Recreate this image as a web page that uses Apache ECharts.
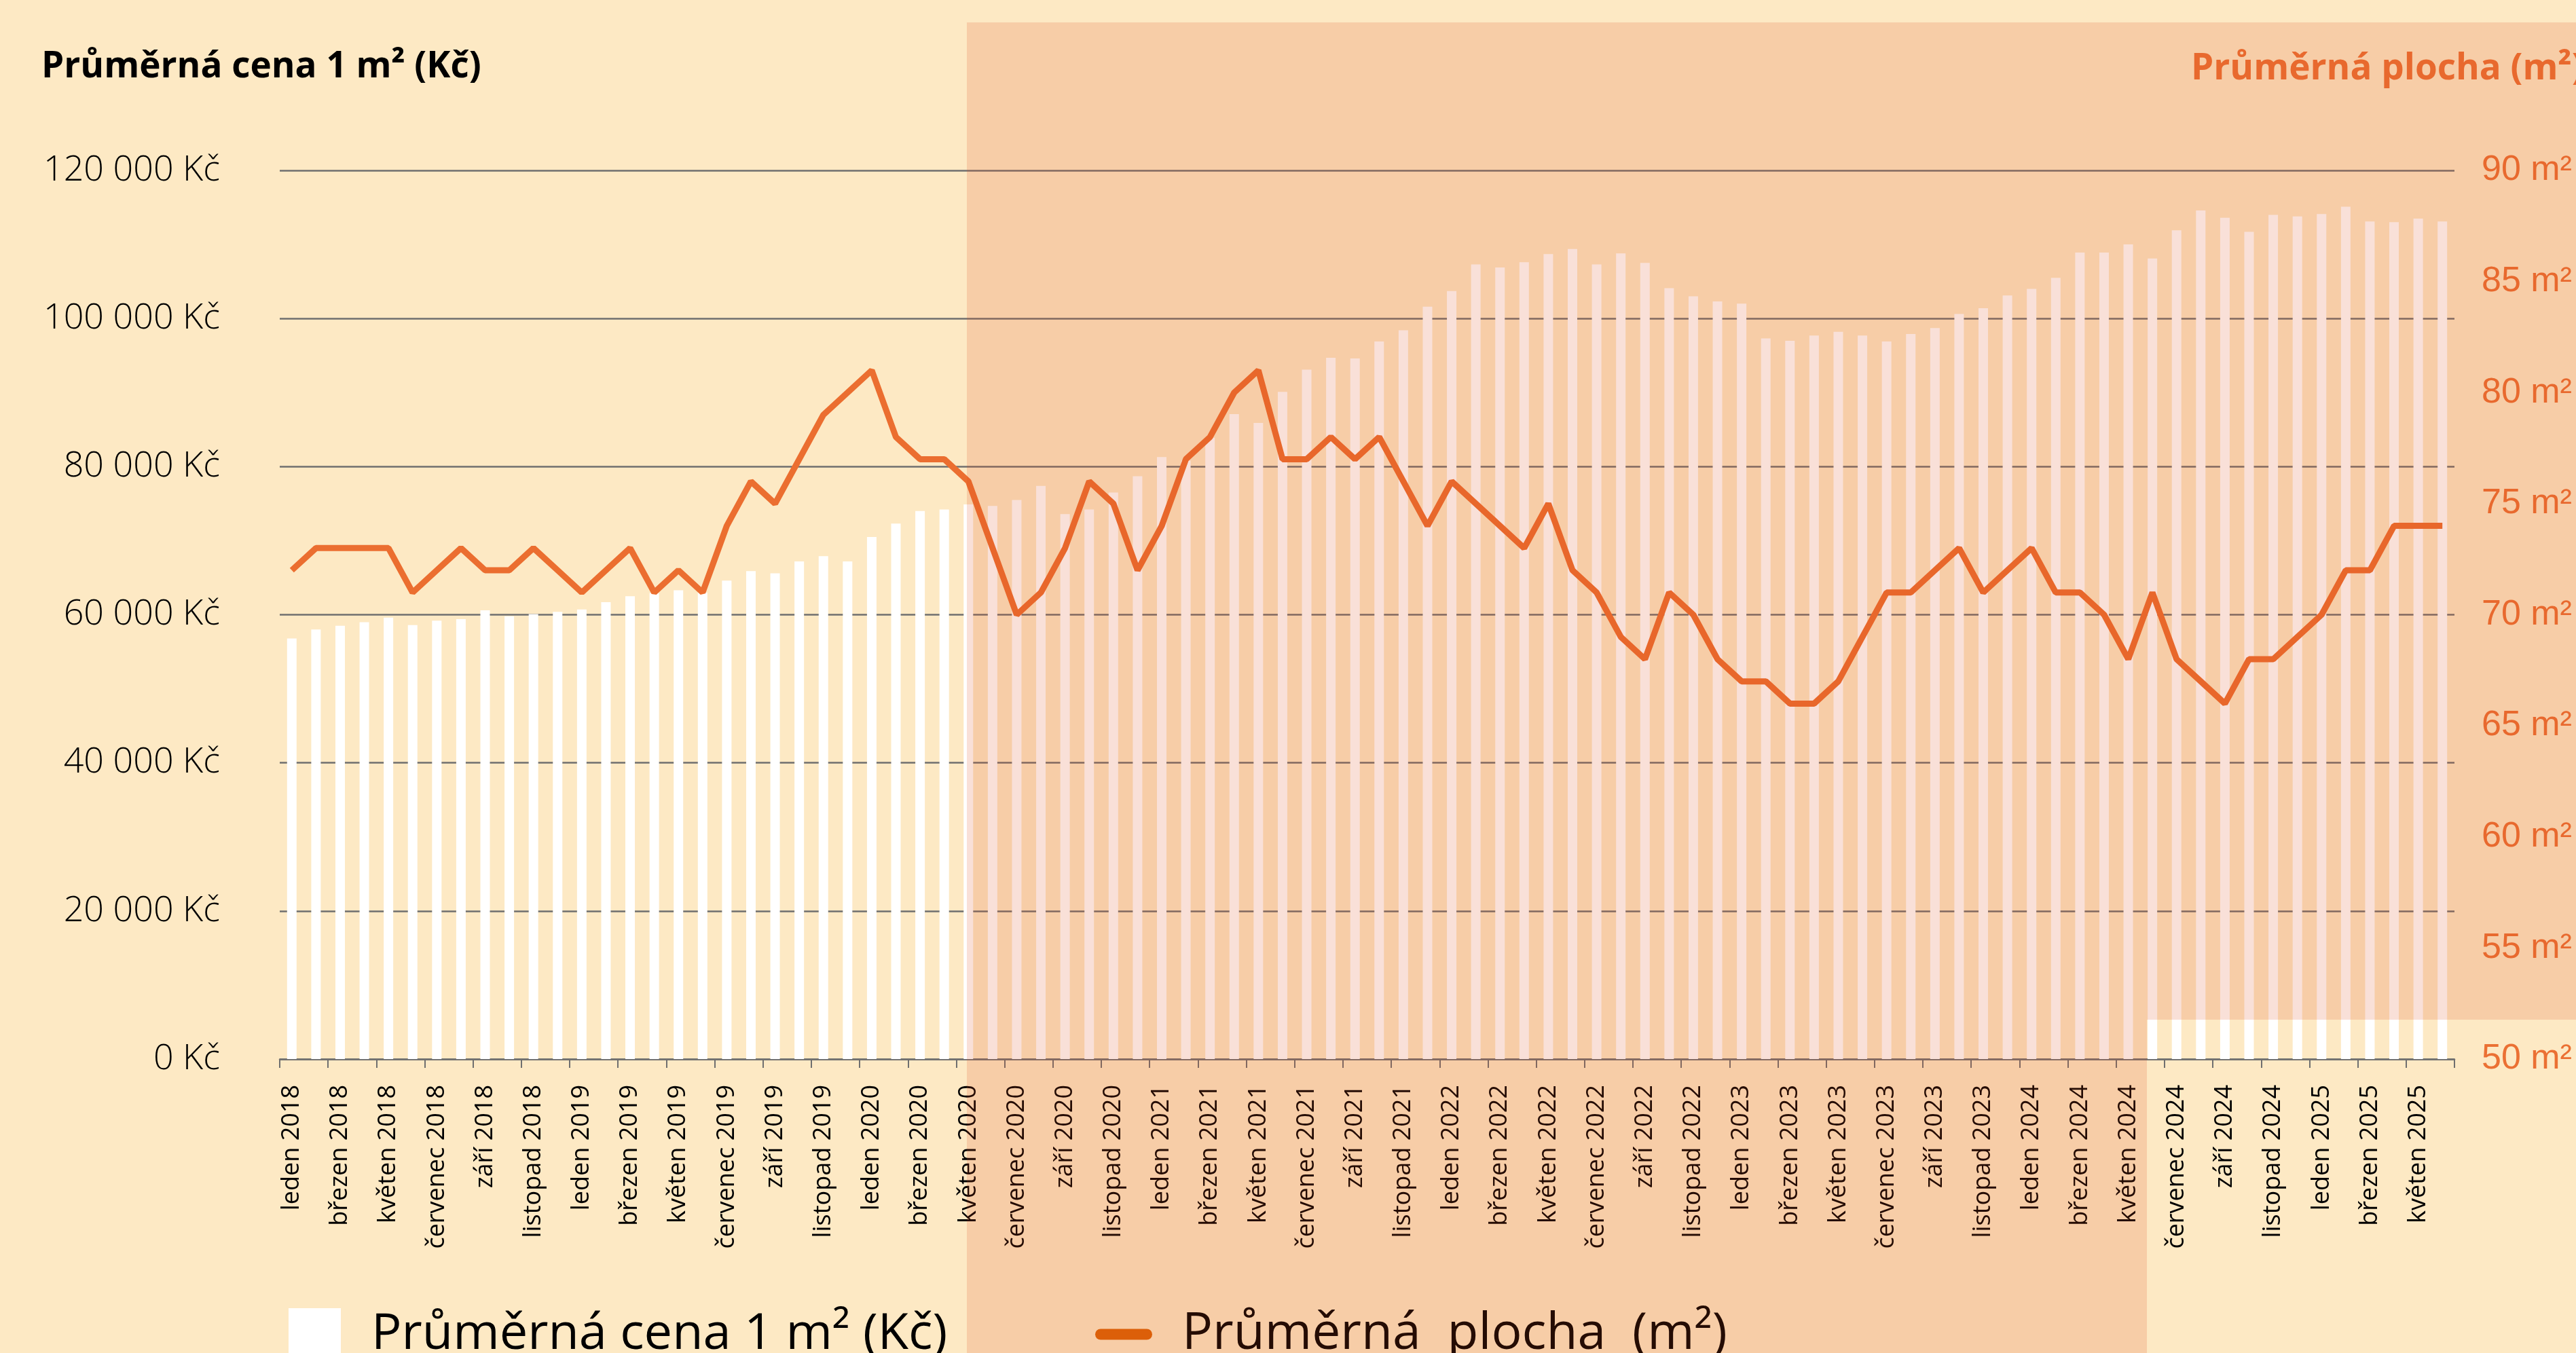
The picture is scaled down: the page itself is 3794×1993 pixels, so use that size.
<!DOCTYPE html>
<html>
<head>
<meta charset="utf-8">
<script src="https://cdn.jsdelivr.net/npm/echarts@6/dist/echarts.min.js"></script>
<style>
html,body{margin:0;padding:0;background:#FDE9C4;}
#chart{width:3794px;height:1993px;}
</style>
</head>
<body>
<div id="chart"></div>
<script>
// Categories (months Jan 2018 – Jun 2025)
const categories = [
  'leden 2018','únor 2018','březen 2018','duben 2018','květen 2018','červen 2018','červenec 2018','srpen 2018','září 2018','říjen 2018','listopad 2018','prosinec 2018',
  'leden 2019','únor 2019','březen 2019','duben 2019','květen 2019','červen 2019','červenec 2019','srpen 2019','září 2019','říjen 2019','listopad 2019','prosinec 2019',
  'leden 2020','únor 2020','březen 2020','duben 2020','květen 2020','červen 2020','červenec 2020','srpen 2020','září 2020','říjen 2020','listopad 2020','prosinec 2020',
  'leden 2021','únor 2021','březen 2021','duben 2021','květen 2021','červen 2021','červenec 2021','srpen 2021','září 2021','říjen 2021','listopad 2021','prosinec 2021',
  'leden 2022','únor 2022','březen 2022','duben 2022','květen 2022','červen 2022','červenec 2022','srpen 2022','září 2022','říjen 2022','listopad 2022','prosinec 2022',
  'leden 2023','únor 2023','březen 2023','duben 2023','květen 2023','červen 2023','červenec 2023','srpen 2023','září 2023','říjen 2023','listopad 2023','prosinec 2023',
  'leden 2024','únor 2024','březen 2024','duben 2024','květen 2024','červen 2024','červenec 2024','srpen 2024','září 2024','říjen 2024','listopad 2024','prosinec 2024',
  'leden 2025','únor 2025','březen 2025','duben 2025','květen 2025','červen 2025'
];

// Average price per m² (Kč)
const pricePerM2 = [
  56800,58000,58500,59000,59600,58600,59200,59400,60600,59800,60100,60400,
  60700,61700,62500,62900,63300,63000,64600,65900,65600,67200,67900,67200,
  70500,72300,74000,74200,74900,74700,75500,77400,73600,74200,76500,78700,
  81300,80800,83900,87100,85900,90100,93100,94700,94600,96900,98400,101600,
  103700,107300,106900,107600,108700,109400,107300,108800,107500,104100,103000,102300,
  102000,97300,97000,97700,98200,97700,96900,97900,98700,100600,101400,103100,
  104000,105500,108900,108900,110000,108100,111900,114600,113600,111700,114000,113800,
  114100,115100,113100,113000,113500,113100
];

// Average area (m²)
const avgArea = [
  72,73,73,73,73,71,72,73,72,72,73,72,
  71,72,73,71,72,71,74,76,75,77,79,80,
  81,78,77,77,76,73,70,71,73,76,75,72,
  74,77,78,80,81,77,77,78,77,78,76,74,
  76,75,74,73,75,72,71,69,68,71,70,68,
  67,67,66,66,67,69,71,71,72,73,71,72,
  73,71,71,70,68,71,68,67,66,68,68,69,
  70,72,72,74,74,74
];

const seriesNames = ['Průměrná cena 1 m² (Kč)', 'Průměrná  plocha  (m²)'];
const titles = ['Průměrná cena 1 m² (Kč)', 'Průměrná plocha (m²)'];

const chart = echarts.init(document.getElementById('chart'));

function fmtKc(v){
  return String(v).replace(/\B(?=(\d{3})+(?!\d))/g, ' ') + ' Kč';
}

const option = {
  backgroundColor: '#FDE9C4',
  animation: false,
  title: [
    { text: titles[0], left: 56, top: 67,
      textStyle: { fontFamily: 'Open Sans', fontWeight: 'bold', fontSize: 53, color: '#000' } },
    { text: titles[1], left: 3222, top: 70,
      textStyle: { fontFamily: 'Open Sans', fontWeight: 'bold', fontSize: 53, color: '#EB7033' } }
  ],
  legend: [
    { data: [seriesNames[0]], left: 420, top: 1922, itemWidth: 77, itemHeight: 77,
      icon: 'rect', selectedMode: false,
      textStyle: { fontFamily: 'Open Sans', fontSize: 74, color: '#000', lineHeight: 77, padding: [0,0,0,40] } },
    { data: [{ name: seriesNames[1], itemStyle: { color: '#DC6407' } }], left: 1608, top: 1922,
      itemWidth: 84, itemHeight: 16, selectedMode: false,
      icon: 'path://M8,0 L76,0 A8,8 0 0 1 76,16 L8,16 A8,8 0 0 1 8,0 Z',
      textStyle: { fontFamily: 'Open Sans', fontSize: 75, color: '#000', lineHeight: 77, padding: [0,0,0,39] } }
  ],
  grid: { left: 412, right: 179, top: 251, bottom: 433, containLabel: false },
  xAxis: {
    type: 'category',
    data: categories,
    boundaryGap: true,
    axisLine: { show: true, lineStyle: { color: '#6F6F6F', width: 2.5 } },
    axisTick: { show: true, interval: 1, length: 13, lineStyle: { color: '#6F6F6F', width: 2 } },
    axisLabel: { interval: 1, rotate: 90, margin: 38, fontFamily: 'Open Sans', fontSize: 36, color: '#000' }
  },
  yAxis: [
    { type: 'value', min: 0, max: 120000, interval: 20000, position: 'left',
      axisLine: { show: false }, axisTick: { show: false },
      axisLabel: { formatter: fmtKc, margin: 88, fontFamily: 'Open Sans', fontWeight: 300, fontSize: 52, color: '#000' },
      splitLine: { show: true, lineStyle: { color: '#6F6F6F', width: 2.5 } } },
    { type: 'value', min: 50, max: 90, interval: 5, position: 'right',
      axisLine: { show: false }, axisTick: { show: false },
      axisLabel: { formatter: v => v + ' m²', margin: 40, fontFamily: 'Liberation Sans', fontSize: 52, color: '#EB7033' },
      splitLine: { show: false } }
  ],
  series: [
    { name: seriesNames[0], type: 'bar', yAxisIndex: 0, data: pricePerM2,
      barWidth: 14, itemStyle: { color: '#FFFFFF' }, z: 2 },
    { name: seriesNames[1], type: 'line', yAxisIndex: 1, data: avgArea,
      showSymbol: false, symbol: 'none', z: 5,
      lineStyle: { color: '#EB6E30', width: 9 }, itemStyle: { color: '#EB6E30' } }
  ],
  graphic: [
    { type: 'polygon', z: 100, silent: true,
      shape: { points: [[1424,33],[3794,33],[3794,1502],[3162,1502],[3162,1993],[1424,1993]] },
      style: { fill: 'rgba(219,69,25,0.17)' } }
  ]
};

chart.setOption(option);
</script>
</body>
</html>
